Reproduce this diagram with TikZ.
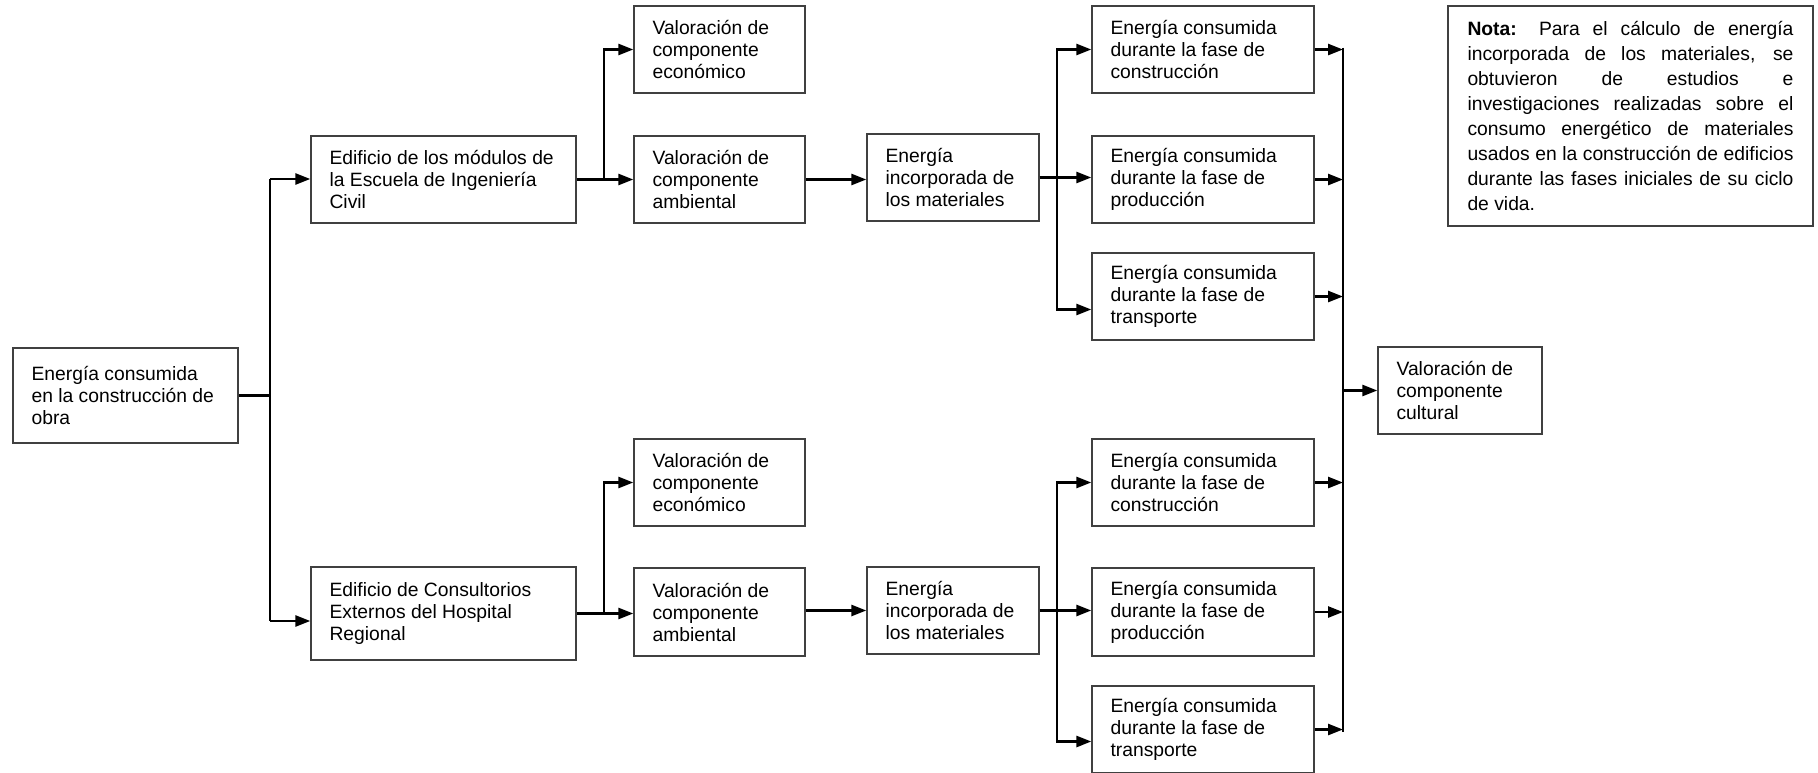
\documentclass[tikz,border=0pt]{standalone}
\usepackage{fontspec}
\setmainfont{Liberation Sans}
\usetikzlibrary{arrows.meta,calc}
\tikzset{
  bx/.style={draw=black!75, line width=1.3pt, rectangle, inner sep=0pt},
  txt/.style={inner sep=0pt, align=left, anchor=west, font=\fontsize{19.3}{22}\selectfont},
  ln/.style={line width=2.6pt, black},
  arr/.style={ln, -{Triangle[length=15pt,width=11pt]}},
}
\newcommand\mybox[6]{%
  \pgfmathsetmacro\bw{#4-#2}\pgfmathsetmacro\bh{#5-#3}%
  \pgfmathsetmacro\cx{(#2+#4)/2}\pgfmathsetmacro\cy{(#3+#5)/2}%
  \node[bx,minimum width=\bw pt,minimum height=\bh pt] (#1) at (\cx,\cy) {};
  \node[txt] (#1t) at ($(#1.west)+(19,0)$) {#6};}
\begin{document}
\begin{tikzpicture}[x=1pt,y=-1pt]
\useasboundingbox (0,0) rectangle (1818,772);
% boxes
\mybox{root}{13}{348}{238}{443}{Energía consumida\\en la construcción de\\obra}
\mybox{ed1}{311}{136}{576}{223}{Edificio de los módulos de\\la Escuela de Ingeniería\\Civil}
\mybox{ed2}{311}{567}{576}{660}{Edificio de Consultorios\\Externos del Hospital\\Regional}
\mybox{ve1}{634}{6}{805}{93}{Valoración de\\componente\\económico}
\mybox{va1}{634}{136}{805}{223}{Valoración de\\componente\\ambiental}
\mybox{ve2}{634}{439}{805}{526}{Valoración de\\componente\\económico}
\mybox{va2}{634}{568}{805}{656}{Valoración de\\componente\\ambiental}
\mybox{ei1}{867}{134}{1039}{221}{Energía\\incorporada de\\los materiales}
\mybox{ei2}{867}{567}{1039}{654}{Energía\\incorporada de\\los materiales}
\mybox{c1}{1092}{6}{1314}{93}{Energía consumida\\durante la fase de\\construcción}
\mybox{p1}{1092}{136}{1314}{223}{Energía consumida\\durante la fase de\\producción}
\mybox{tr1}{1092}{253}{1314}{340}{Energía consumida\\durante la fase de\\transporte}
\mybox{c2}{1092}{439}{1314}{526}{Energía consumida\\durante la fase de\\construcción}
\mybox{p2}{1092}{568}{1314}{656}{Energía consumida\\durante la fase de\\producción}
\mybox{tr2}{1092}{686}{1314}{773}{Energía consumida\\durante la fase de\\transporte}
\mybox{cult}{1378}{347}{1542}{434}{Valoración de\\componente\\cultural}
\node[bx, align=justify, text width=326pt, minimum width=365pt, minimum height=220pt,
  font=\fontsize{19.3}{25}\selectfont] (nota) at (1630.5,116)
  {\tolerance=10000\relax
   \textbf{Nota:} Para el cálculo de energía\linebreak
   incorporada de los materiales, se\linebreak
   obtuvieron de estudios e\linebreak
   investigaciones realizadas sobre el\linebreak
   consumo energético de materiales\linebreak
   usados en la construcción de edificios\linebreak
   durante las fases iniciales de su ciclo\linebreak
   de vida.};
% coordinates
\coordinate (ta) at (270,179);
\coordinate (tb) at (270,621);
\coordinate (ba) at (604,0);
\coordinate (bb) at (1057,0);
\coordinate (col) at (1343,0);
% root to buildings
\draw[ln] (root.east) -- (root.east -| ta);
\draw[ln] (ta) -- (tb);
\draw[arr] (ta) -- (ed1.west |- ta);
\draw[arr] (tb) -- (ed2.west |- tb);
% building 1
\draw[ln] (ed1.east) -- (ed1.east -| ba);
\draw[arr] (ed1.east -| ba) |- (ve1.west);
\draw[arr] (ed1.east) -- (va1.west |- ed1.east);
\draw[arr] (va1.east) -- (ei1.west |- va1.east);
\draw[ln] (ei1.east) -- (ei1.east -| bb);
\draw[arr] (ei1.east -| bb) |- (c1.west);
\draw[arr] (ei1.east) -- (p1.west |- ei1.east);
\draw[arr] (ei1.east -| bb) |- ($(tr1.west)+(0,13)$);
% building 2
\draw[ln] (ed2.east) -- (ed2.east -| ba);
\draw[arr] (ed2.east -| ba) |- (ve2.west);
\draw[arr] (ed2.east) -- (va2.west |- ed2.east);
\draw[arr] (va2.east |- ei2.west) -- (ei2.west);
\draw[ln] (ei2.east) -- (ei2.east -| bb);
\draw[arr] (ei2.east -| bb) |- (c2.west);
\draw[arr] (ei2.east) -- (p2.west |- ei2.east);
\draw[arr] (ei2.east -| bb) |- ($(tr2.west)+(0,12)$);
% collector
\draw[ln] ($(c1.east -| col)+(0,-2)$) -- ($(tr2.east -| col)+(0,2)$);
\foreach \n in {c1,p1,tr1,c2,p2,tr2} {\draw[arr] (\n.east) -- (\n.east -| col);}
\draw[arr] (col |- cult.west) -- (cult.west);
\end{tikzpicture}
\end{document}
